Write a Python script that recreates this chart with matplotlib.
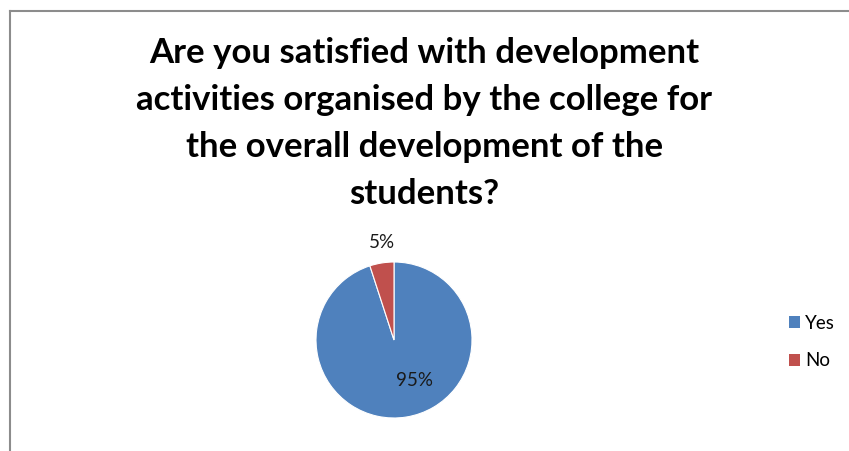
import matplotlib.pyplot as plt
from matplotlib.lines import Line2D
from matplotlib.patches import Patch

TITLE = ("Are you satisfied with development\nactivities organised by the college for\n"
         "the overall development of the\nstudents?")
LABELS = ["Yes", "No"]
SHARES = [95, 5]
COLORS = ["#4F81BD", "#C0504D"]

W, H = 849, 451
fig = plt.figure(figsize=(W / 100, H / 100), dpi=100)
fig.patch.set_facecolor("white")

# chart frame (only top and left edges visible in the crop)
fig.add_artist(Line2D([10 / W, 1], [1 - 11 / H, 1 - 11 / H], color="#8c8c8c", lw=1.5))
fig.add_artist(Line2D([10 / W, 10 / W], [1 - 11 / H, 0], color="#8c8c8c", lw=1.5))

fig.text(0.5, 1 - 37 / H, TITLE, ha="center", va="top", fontsize=25,
         fontweight="bold", family="Lato", linespacing=1.58)

cx, cy, r = 394, 340, 78
ax = fig.add_axes([(cx - r) / W, (H - cy - r) / H, 2 * r / W, 2 * r / H])
wedges, _ = ax.pie(SHARES, colors=COLORS, startangle=90, counterclock=False,
                   wedgeprops=dict(edgecolor="white", linewidth=0.8))
ax.set_xlim(-1, 1)
ax.set_ylim(-1, 1)
ax.set_aspect("equal")
ax.axis("off")

label_pos = [(0.26, -0.52), (-0.15, 1.25)]
for share, (x, y) in zip(SHARES, label_pos):
    ax.text(x, y, f"{share}%", ha="center", va="center", fontsize=13.5,
            family="Lato", color="#1a1a1a", clip_on=False)

handles = [Patch(facecolor=c, edgecolor="none") for c in COLORS]
fig.legend(handles, LABELS, loc="center left", bbox_to_anchor=(772 / W, 1 - 342 / H),
           frameon=False, prop={"family": "Lato", "size": 13.5},
           handlelength=0.6, handleheight=0.6, handletextpad=0.25, labelspacing=1.1)

fig.savefig("out.png", dpi=100)
